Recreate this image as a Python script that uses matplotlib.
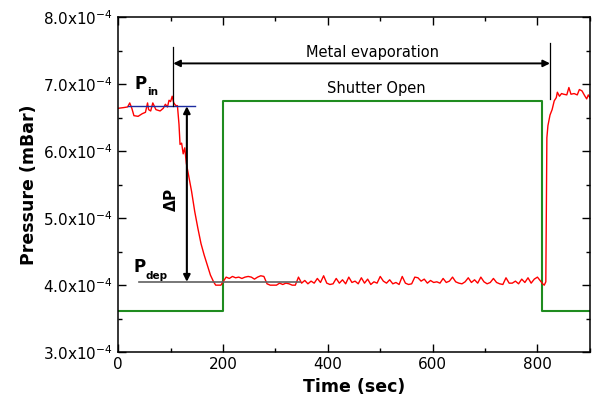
import matplotlib
matplotlib.use('Agg')
import matplotlib.pyplot as plt
from matplotlib.ticker import MultipleLocator, FuncFormatter

# pressure values in units of 1e-4 mBar
t_red = [0, 10, 18, 22, 26, 30, 38, 46, 52, 56, 58, 62, 66, 72, 80, 86, 90,
         94, 97, 100, 103, 106, 110, 113, 116, 118, 121, 124, 127, 130, 134,
         140, 146, 152, 158, 164, 170, 176, 182, 186, 192, 196]
p_red = [6.64, 6.65, 6.66, 6.72, 6.64, 6.53, 6.52, 6.56, 6.58, 6.72, 6.62,
         6.60, 6.72, 6.62, 6.60, 6.64, 6.70, 6.66, 6.76, 6.74, 6.82, 6.72,
         6.68, 6.68, 6.40, 6.10, 6.12, 5.96, 6.05, 5.82, 5.65, 5.40, 5.10,
         4.85, 4.62, 4.45, 4.30, 4.15, 4.05, 4.00, 4.00, 4.00]

t_plateau = list(range(200, 807, 6))
p_plateau = [4.05, 4.12, 4.10, 4.13, 4.11, 4.12, 4.10, 4.12, 4.13, 4.12,
             4.09, 4.12, 4.14, 4.13, 4.02, 4.00, 4.00, 4.00, 4.03, 4.01,
             4.03, 4.02, 4.00, 4.00, 4.12, 4.03, 4.07, 4.02, 4.06, 4.03,
             4.10, 4.04, 4.14, 4.03, 4.01, 4.02, 4.10, 4.03, 4.08, 4.02,
             4.12, 4.04, 4.06, 4.02, 4.11, 4.03, 4.09, 4.01, 4.05, 4.03,
             4.13, 4.06, 4.03, 4.08, 4.02, 4.04, 4.01, 4.13, 4.03, 4.01,
             4.02, 4.12, 4.11, 4.06, 4.09, 4.03, 4.07, 4.04, 4.05, 4.03,
             4.10, 4.04, 4.06, 4.12, 4.05, 4.03, 4.02, 4.05, 4.11, 4.04,
             4.08, 4.03, 4.12, 4.05, 4.02, 4.04, 4.10, 4.04, 4.02, 4.01,
             4.11, 4.03, 4.03, 4.06, 4.02, 4.09, 4.04, 4.11, 4.03, 4.09,
             4.12, 4.06]

t_end = [810, 813, 816, 818, 820, 824, 828, 832, 836, 838, 842, 846, 850,
         856, 860, 864, 870, 876, 880, 885, 890, 894, 897, 900]
p_end = [4.02, 4.00, 4.05, 6.20, 6.38, 6.54, 6.62, 6.75, 6.80, 6.88, 6.82,
         6.86, 6.85, 6.84, 6.95, 6.85, 6.86, 6.84, 6.92, 6.90, 6.83, 6.78,
         6.84, 6.80]

t_shutter = [0, 200, 200, 808, 808, 900]
p_shutter = [3.62, 3.62, 6.75, 6.75, 3.62, 3.62]

p_in = 6.67
p_dep = 4.05
t_evap = [105, 824]

t_all = t_red + t_plateau + t_end
p_all = [v * 1e-4 for v in p_red + p_plateau + p_end]

fig = plt.figure(figsize=(5.94, 4.09), dpi=100)
ax = fig.add_axes([0.199, 0.139, 0.794, 0.819])

ax.plot(t_shutter, [v * 1e-4 for v in p_shutter], color='#1f8c1f', lw=1.5)
ax.plot(t_all, p_all, color='red', lw=1.0)

ax.plot([19, 147], [p_in * 1e-4] * 2, color='#1c2ca0', lw=1.0)
ax.plot([40, 347], [p_dep * 1e-4] * 2, color='#606060', lw=1.2)

ax.annotate('', xy=(131, p_dep * 1e-4), xytext=(131, p_in * 1e-4),
            arrowprops=dict(arrowstyle='<|-|>', color='k', lw=1.5,
                            mutation_scale=10, shrinkA=0, shrinkB=0))
ax.text(100, 5.27e-4, r'$\mathbf{\Delta P}$', rotation=90, ha='center',
        va='center', fontsize=11)

ax.plot([t_evap[0]] * 2, [6.67e-4, 7.55e-4], color='k', lw=0.9)
ax.plot([t_evap[1]] * 2, [6.78e-4, 7.61e-4], color='k', lw=0.9)
ax.annotate('', xy=(t_evap[0], 7.31e-4), xytext=(t_evap[1], 7.31e-4),
            arrowprops=dict(arrowstyle='<|-|>', color='k', lw=1.4,
                            mutation_scale=10, shrinkA=0, shrinkB=0))
ax.text(486, 7.48e-4, 'Metal evaporation', ha='center', va='center',
        fontsize=10.5)
ax.text(493, 6.94e-4, 'Shutter Open', ha='center', va='center',
        fontsize=10.5)

# P_in and P_dep labels: big P with small subscript
ax.text(43, 7.0e-4, 'P', ha='center', va='center', fontsize=12,
        fontweight='bold')
ax.text(55, 6.89e-4, 'in', ha='left', va='center', fontsize=7.5,
        fontweight='bold')
ax.text(41, 4.27e-4, 'P', ha='center', va='center', fontsize=12,
        fontweight='bold')
ax.text(53, 4.13e-4, 'dep', ha='left', va='center', fontsize=7.5,
        fontweight='bold')

ax.set_xlim(0, 900)
ax.set_ylim(3.0e-4, 8.0e-4)
ax.xaxis.set_major_locator(MultipleLocator(200))
ax.xaxis.set_minor_locator(MultipleLocator(100))
ax.yaxis.set_major_locator(MultipleLocator(1e-4))
ax.yaxis.set_minor_locator(MultipleLocator(0.5e-4))
ax.yaxis.set_major_formatter(
    FuncFormatter(lambda v, pos: '%.1fx10$^{-4}$' % (v * 1e4)))
ax.tick_params(which='both', direction='in', top=True, right=True,
               labelsize=11, width=1)
ax.tick_params(which='major', length=6)
ax.tick_params(which='minor', length=3)
for s in ax.spines.values():
    s.set_linewidth(1.1)

ax.set_xlabel('Time (sec)', fontsize=12.5, fontweight='bold')
ax.set_ylabel('Pressure (mBar)', fontsize=12.5, fontweight='bold')

fig.savefig('out.png', dpi=100)
